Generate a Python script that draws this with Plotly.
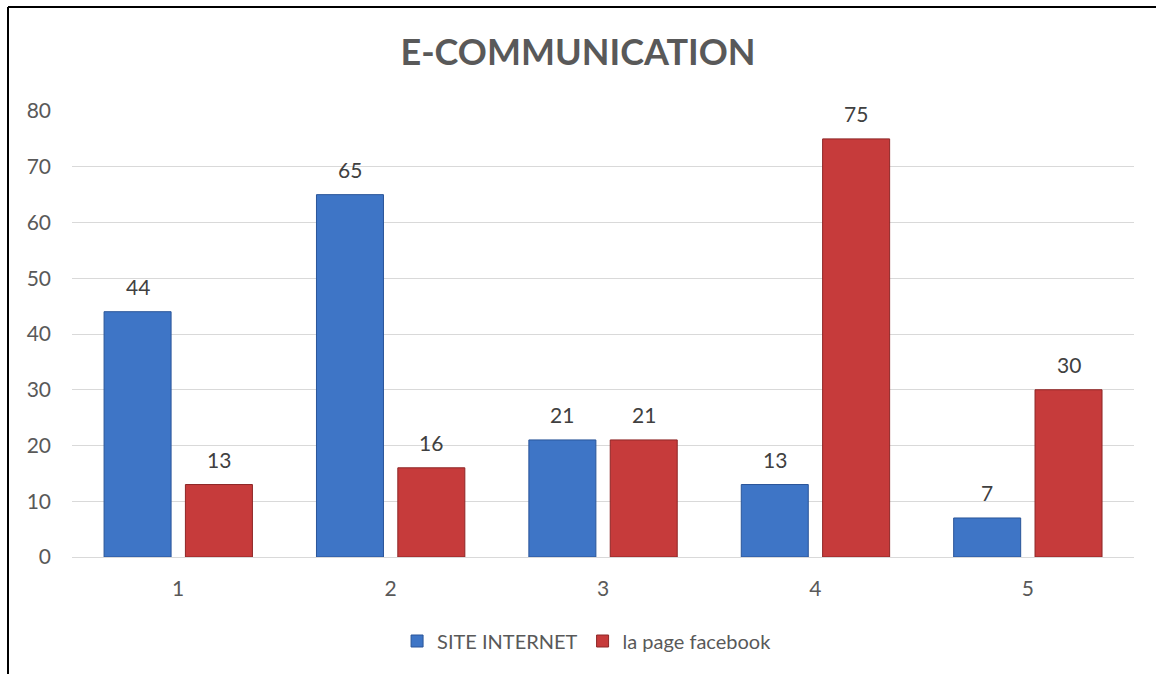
import plotly.graph_objects as go

categories = [1, 2, 3, 4, 5]
tick_labels = ["1", "2", "3", "4", "5"]
site_internet = [44, 65, 21, 13, 7]
page_facebook = [13, 16, 21, 75, 30]

BAR_W = 0.3155
OFF_BLUE = -0.349
OFF_RED = 0.034
FONT = "Lato"
GRAY = "#595959"

fig = go.Figure()
fig.add_trace(go.Bar(
    x=categories, y=site_internet, name="SITE INTERNET",
    width=BAR_W, offset=OFF_BLUE,
    marker=dict(color="#3E75C6", line=dict(color="#2A5599", width=1)),
))
fig.add_trace(go.Bar(
    x=categories, y=page_facebook, name="la page facebook",
    width=BAR_W, offset=OFF_RED,
    marker=dict(color="#C63B3B", line=dict(color="#8E2626", width=1)),
))

annotations = []
for xs, ys, off in [(categories, site_internet, OFF_BLUE), (categories, page_facebook, OFF_RED)]:
    for xv, yv in zip(xs, ys):
        annotations.append(dict(
            x=xv + off + BAR_W / 2, y=yv, xref="x", yref="y",
            text=str(yv), showarrow=False, yshift=25, yanchor="middle",
            font=dict(family=FONT, size=21, color="#404040"),
        ))

px_w = 1134 - 72
px_h = 557 - 111
def px_x(p):
    return (p - 72) / px_w
def px_y(p):
    return (557 - p) / px_h

shapes = [
    dict(type="line", xref="paper", yref="paper",
         x0=px_x(8), x1=px_x(8), y0=px_y(7), y1=px_y(680),
         line=dict(color="black", width=2)),
    dict(type="line", xref="paper", yref="paper",
         x0=px_x(8), x1=px_x(1160), y0=px_y(7), y1=px_y(7),
         line=dict(color="black", width=2)),
]

fig.update_layout(
    width=1156, height=674,
    margin=dict(l=72, r=22, t=111, b=117),
    paper_bgcolor="white", plot_bgcolor="white",
    title=dict(text="<b>E-COMMUNICATION</b>", x=0.5, xanchor="center",
               y=1 - 52 / 674, yanchor="middle",
               font=dict(family=FONT, size=36, color=GRAY)),
    font=dict(family=FONT, size=21, color=GRAY),
    barmode="overlay",
    showlegend=True,
    legend=dict(orientation="h", x=0.485, xanchor="center",
                y=px_y(641), yanchor="middle",
                font=dict(family=FONT, size=20, color=GRAY),
                itemwidth=30),
    xaxis=dict(range=[0.5, 5.5], tickmode="array", tickvals=categories,
               ticktext=tick_labels, showgrid=False, zeroline=False,
               showline=True, linecolor="#d9d9d9", linewidth=1,
               ticks="", ticklabelstandoff=13,
               tickfont=dict(family=FONT, size=21, color=GRAY)),
    yaxis=dict(range=[0, 80], tickmode="linear", dtick=10, tick0=0,
               showgrid=True, gridcolor="#d9d9d9", gridwidth=1,
               zeroline=False, showline=False, ticks="",
               ticklabelstandoff=20,
               tickfont=dict(family=FONT, size=21, color=GRAY)),
    annotations=annotations,
    shapes=shapes,
)

fig.write_html("out.html")
